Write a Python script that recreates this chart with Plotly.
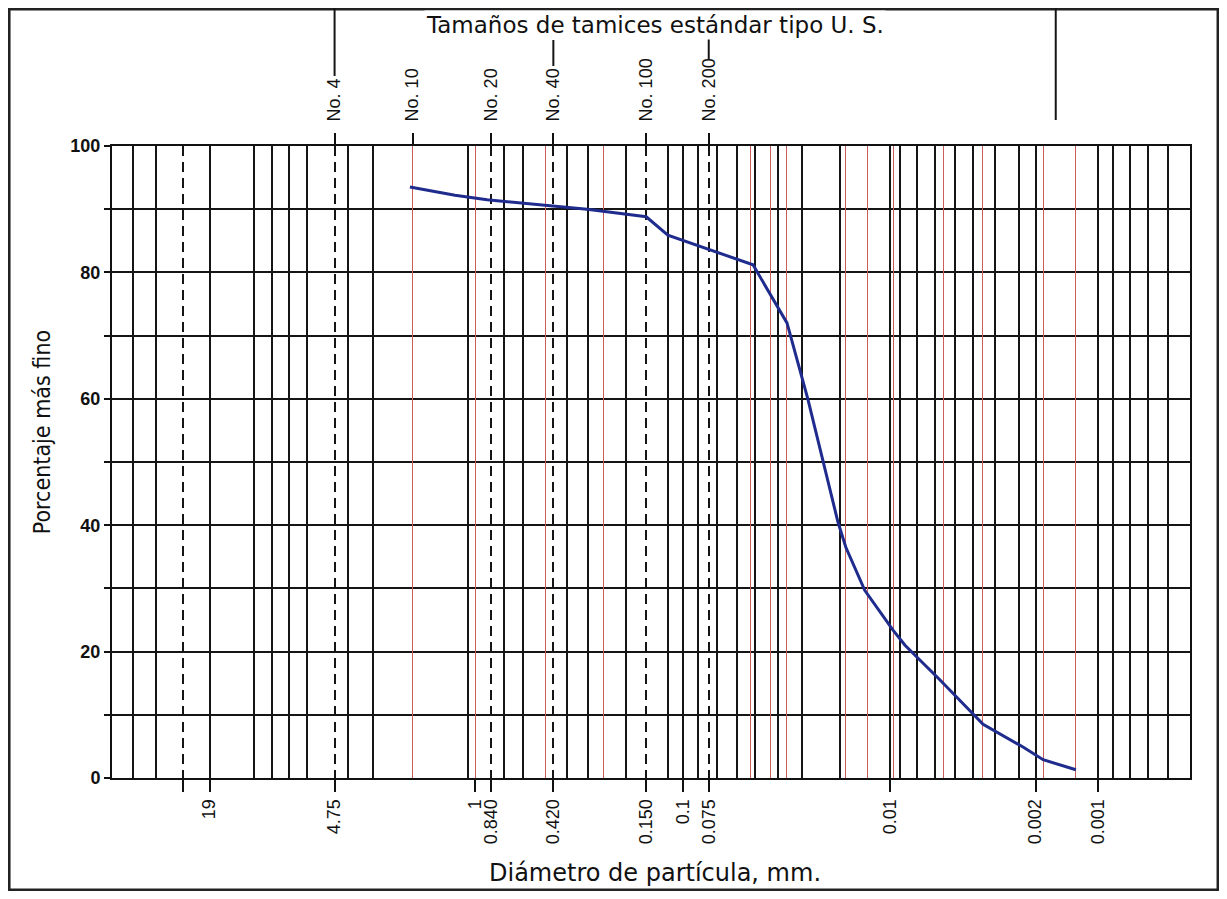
import plotly.graph_objects as go

# ---------------- data ----------------
diameter_mm = [2.06, 1.65, 1.25, 0.876, 0.395, 0.289, 0.150, 0.118, 0.0459, 0.0315,
               0.0250, 0.0179, 0.0164, 0.0133, 0.00972, 0.00851, 0.00577, 0.00392,
               0.00358, 0.00230, 0.00184, 0.00128]
percent_finer = [93.5, 92.9, 92.2, 91.5, 90.4, 90.0, 88.8, 85.9, 81.2, 72.0,
                 60.0, 40.5, 36.5, 29.7, 23.4, 21.0, 15.5, 9.7,
                 8.5, 4.9, 2.9, 1.3]

bottom_tick_vals = [25.4, 19, 4.75, 1, 0.84, 0.42, 0.15, 0.1, 0.075, 0.01, 0.002, 0.001]
bottom_tick_text = ["", "19", "4.75", "1", "0.840", "0.420", "0.150", "0.1", "0.075",
                    "0.01", "0.002", "0.001"]

sieve_vals = [4.75, 2.0, 0.84, 0.42, 0.15, 0.075]
sieve_text = ["No. 4", "No. 10", "No. 20", "No. 40", "No. 100", "No. 200"]

y_tick_vals = [0, 10, 20, 30, 40, 50, 60, 70, 80, 90, 100]
y_tick_text = ["0", "", "20", "", "40", "", "60", "", "80", "", "100"]

# chart-paper grid (diameters, mm)
grid_solid = [44.4, 34.4, 19, 11.6, 9.51, 7.87, 6.45, 4.09, 3.10, 1.082, 0.726, 0.588,
              0.361, 0.286, 0.1877, 0.1178, 0.1, 0.0845, 0.0684, 0.0548, 0.0449, 0.0348,
              0.0267, 0.0175, 0.01, 0.0090, 0.00745, 0.0061, 0.00489, 0.0040, 0.00314,
              0.0024, 0.002, 0.001, 0.000848, 0.000702, 0.000575, 0.000461]
grid_red = [2.0, 1.0, 0.4605, 0.242, 0.047, 0.0380, 0.0315, 0.01655, 0.01297,
            0.00972, 0.00558, 0.00362, 0.00184, 0.00128]
grid_dashed = [25.4, 4.75, 0.84, 0.42, 0.15, 0.075]

# leader lines above the sieve labels (diameter, mm)
leader_vals = [4.75, 0.42, 0.075, 0.0016]

# ---------------- figure ----------------
x_range = [1.7485, -3.4424]   # log10 units, reversed (coarse to fine)

fig = go.Figure()

# invisible helpers that activate the grid overlay axes
for ax in ["x2", "x3", "x4", "x5"]:
    fig.add_trace(go.Scatter(x=diameter_mm, y=percent_finer, xaxis=ax, yaxis="y",
                             mode="lines", opacity=0, hoverinfo="skip",
                             showlegend=False))

fig.add_trace(go.Scatter(x=diameter_mm, y=percent_finer, mode="lines",
                         line=dict(color="#1f2c8e", width=3),
                         showlegend=False, hoverinfo="x+y"))

tick_font = dict(family="Liberation Sans, Arial, sans-serif", size=18, color="#111")
title_font = "DejaVu Sans, Verdana, sans-serif"

common_overlay = dict(type="log", range=x_range, overlaying="x", anchor="y",
                      showticklabels=False, ticks="", showline=False, zeroline=False,
                      tickmode="array")

# vertical extents (paper units) of the leader lines above the top labels
leader_spans = [(1.1108, 1.2184), (1.1266, 1.1677), (1.1377, 1.1772), (1.0411, 1.2184)]
shapes = [
    dict(type="rect", xref="paper", yref="paper", x0=-0.0955, x1=1.026,
         y0=-0.1772, y1=1.2168, line=dict(color="#222", width=3),
         fillcolor="rgba(0,0,0,0)", layer="below"),
]
for v, (y0, y1) in zip(leader_vals, leader_spans):
    shapes.append(dict(type="line", xref="x", yref="paper", x0=v, x1=v, y0=y0, y1=y1,
                       line=dict(color="#151515", width=2)))

fig.update_layout(
    width=1211, height=883,
    margin=dict(l=104, r=29, t=138, b=113),
    paper_bgcolor="white", plot_bgcolor="white",
    xaxis=dict(type="log", range=x_range, tickmode="array",
               tickvals=bottom_tick_vals, ticktext=bottom_tick_text,
               tickangle=-90, ticks="outside", ticklen=12, tickwidth=2,
               tickcolor="#111", tickfont=tick_font, showgrid=False,
               showline=True, linewidth=2, linecolor="#111", mirror=True,
               zeroline=False),
    xaxis2=dict(common_overlay, tickvals=grid_solid, showgrid=True,
                gridcolor="#151515", gridwidth=2),
    xaxis3=dict(common_overlay, tickvals=grid_red, showgrid=True,
                gridcolor="#cc5c5c", gridwidth=1),
    xaxis4=dict(common_overlay, tickvals=grid_dashed, showgrid=True,
                gridcolor="#151515", gridwidth=2, griddash="10px,6px"),
    xaxis5=dict(type="log", range=x_range, overlaying="x", anchor="y", side="top",
                tickmode="array", tickvals=sieve_vals, ticktext=sieve_text,
                tickangle=-90, ticks="outside", ticklen=12, tickwidth=2,
                ticklabelstandoff=8,
                tickcolor="#111", tickfont=tick_font, showgrid=False,
                showline=False, zeroline=False),
    yaxis=dict(range=[0, 100], tickmode="array", tickvals=y_tick_vals,
               ticktext=y_tick_text, ticks="outside", ticklen=6, tickwidth=2,
               tickcolor="#111",
               tickfont=dict(family="Liberation Sans, Arial, sans-serif", size=18,
                             color="#111", weight="bold"),
               showgrid=True, gridcolor="#151515", gridwidth=2,
               showline=True, linewidth=2, linecolor="#111", mirror=True,
               zeroline=False),
    annotations=[
        dict(text="Tamaños de tamices estándar tipo U. S.", xref="paper", yref="paper",
             x=0.504, y=1.1915, xanchor="center", yanchor="middle", showarrow=False,
             bgcolor="white",
             font=dict(family=title_font, size=23, color="#111")),
        dict(text="Diámetro de partícula, mm.", xref="paper", yref="paper",
             x=0.504, y=-0.150, xanchor="center", yanchor="middle", showarrow=False,
             font=dict(family=title_font, size=24, color="#111")),
        dict(text="Porcentaje más fino", xref="paper", yref="paper",
             x=-0.065, y=0.547, xanchor="center", yanchor="middle", showarrow=False,
             textangle=-90,
             font=dict(family="Liberation Sans Narrow, DejaVu Sans Condensed, sans-serif",
                       size=23, color="#111")),
    ],
    shapes=shapes,
)

fig.write_html("out.html")
